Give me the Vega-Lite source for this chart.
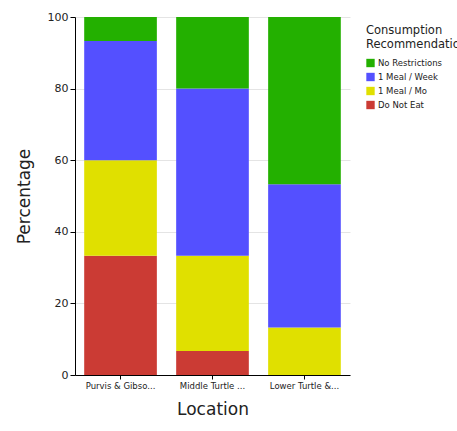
{
  "$schema": "https://vega.github.io/schema/vega-lite/v6.json",
  "width": 275,
  "height": 358,
  "autosize": "none",
  "padding": {"left": 75, "top": 17, "right": 107, "bottom": 56},
  "config": {
    "font": "DejaVu Sans",
    "view": {"stroke": null},
    "axis": {"labelColor": "#222", "titleColor": "#222", "titleFontWeight": "normal", "domainColor": "#000", "tickColor": "#000"}
  },
  "data": {
    "values": [
      {"Location": "Purvis & Gibson Lakes", "Recommendation": "Do Not Eat", "Percentage": 33.3, "rank": 1},
      {"Location": "Purvis & Gibson Lakes", "Recommendation": "1 Meal / Mo", "Percentage": 26.7, "rank": 2},
      {"Location": "Purvis & Gibson Lakes", "Recommendation": "1 Meal / Week", "Percentage": 33.3, "rank": 3},
      {"Location": "Purvis & Gibson Lakes", "Recommendation": "No Restrictions", "Percentage": 6.7, "rank": 4},
      {"Location": "Middle Turtle Lake", "Recommendation": "Do Not Eat", "Percentage": 6.7, "rank": 1},
      {"Location": "Middle Turtle Lake", "Recommendation": "1 Meal / Mo", "Percentage": 26.6, "rank": 2},
      {"Location": "Middle Turtle Lake", "Recommendation": "1 Meal / Week", "Percentage": 46.7, "rank": 3},
      {"Location": "Middle Turtle Lake", "Recommendation": "No Restrictions", "Percentage": 20.0, "rank": 4},
      {"Location": "Lower Turtle & Round Lakes", "Recommendation": "Do Not Eat", "Percentage": 0, "rank": 1},
      {"Location": "Lower Turtle & Round Lakes", "Recommendation": "1 Meal / Mo", "Percentage": 13.3, "rank": 2},
      {"Location": "Lower Turtle & Round Lakes", "Recommendation": "1 Meal / Week", "Percentage": 40.0, "rank": 3},
      {"Location": "Lower Turtle & Round Lakes", "Recommendation": "No Restrictions", "Percentage": 46.7, "rank": 4}
    ]
  },
  "mark": {"type": "bar"},
  "encoding": {
    "x": {
      "field": "Location",
      "type": "nominal",
      "sort": null,
      "scale": {"paddingInner": 0.21, "paddingOuter": 0.1},
      "axis": {
        "labelAngle": 0,
        "labelFontSize": 8.5,
        "labelExpr": "length(datum.label) > 14 ? slice(datum.label, 0, 14) + '...' : datum.label",
        "titleFontSize": 17,
        "titlePadding": 12,
        "tickSize": 4
      }
    },
    "y": {
      "field": "Percentage",
      "type": "quantitative",
      "stack": "zero",
      "scale": {"domain": [0, 100]},
      "axis": {
        "tickCount": 5,
        "labelFontSize": 11,
        "titleFontSize": 17,
        "titlePadding": 14,
        "gridColor": "#e4e4e4",
        "tickSize": 5
      }
    },
    "order": {"field": "rank", "type": "quantitative"},
    "color": {
      "field": "Recommendation",
      "type": "nominal",
      "scale": {
        "domain": ["No Restrictions", "1 Meal / Week", "1 Meal / Mo", "Do Not Eat"],
        "range": ["#23b000", "#5450ff", "#e0e000", "#cb3b34"]
      },
      "legend": {
        "orient": "none",
        "legendX": 291,
        "legendY": 8,
        "title": ["Consumption", "Recommendation"],
        "titleFontSize": 11.5,
        "titleLineHeight": 14,
        "titleFontWeight": "normal",
        "titleColor": "#222",
        "labelFontSize": 8.5,
        "labelColor": "#222",
        "labelOffset": 3,
        "symbolType": "square",
        "symbolSize": 70,
        "symbolStrokeWidth": 0,
        "rowPadding": 5,
        "titlePadding": 8
      }
    }
  }
}
